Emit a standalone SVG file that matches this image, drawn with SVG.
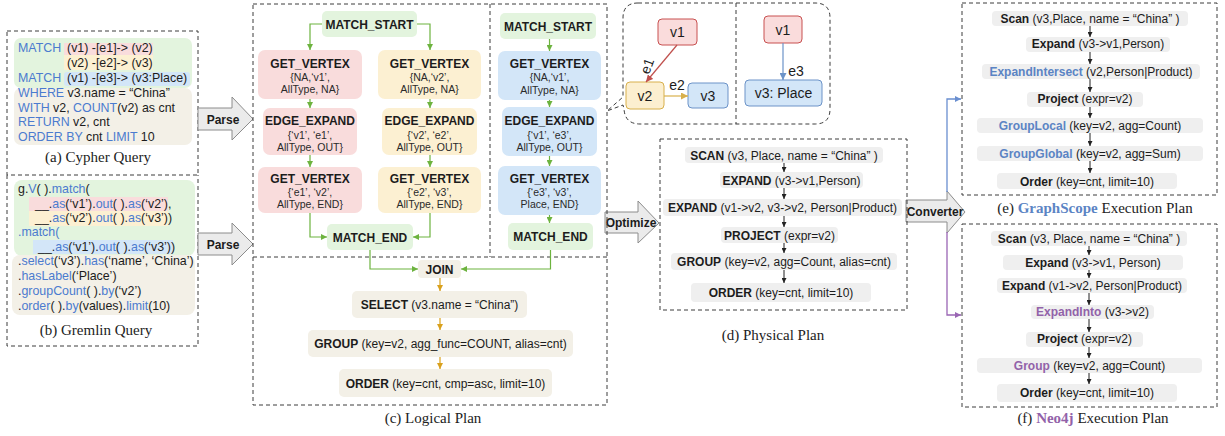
<svg xmlns="http://www.w3.org/2000/svg" width="1225" height="436" viewBox="0 0 1225 436">
<style>
  .dash{fill:none;stroke:#3c3c3c;stroke-width:1;stroke-dasharray:4 3}
  .t{font-family:"Liberation Sans",Arial,sans-serif;font-size:12px;fill:#1c1c1c}
  .code{font-family:"Liberation Sans",Arial,sans-serif;font-size:12.4px;fill:#1c1c1c}
  .sub{font-family:"Liberation Sans",Arial,sans-serif;font-size:10.5px;fill:#2a2a2a}
  .b{font-weight:bold}
  .kw{fill:#4b7bcf}
  .gs{fill:#5b84c4}
  .neo{fill:#9262a9}
  .cap{font-family:"Liberation Serif","Times New Roman",serif;font-size:15px;fill:#222}
  .row{fill:#efefef}
  .green{fill:#e3f4de}
  .pink{fill:#f9dcdc}
  .orange{fill:#fcf0d2}
  .blue{fill:#d3e6f8}
  .beige{fill:#f3f0e7}
  .blk{fill:#ebebeb;stroke:#8c8c8c;stroke-width:1}
  .gl{fill:none;stroke:#6db33f;stroke-width:1.2}
  .ol{fill:none;stroke:#d9a11e;stroke-width:1.2}
  .kl{fill:none;stroke:#222;stroke-width:1}
  .node{font-family:"Liberation Sans",Arial,sans-serif;font-size:14px;fill:#1c1c1c}
</style>
<defs>
  <marker id="ag" markerUnits="userSpaceOnUse" markerWidth="6" markerHeight="6" refX="6" refY="3" orient="auto"><path d="M0,0 L6,3 L0,6 z" fill="#6db33f"/></marker>
  <marker id="ao" markerUnits="userSpaceOnUse" markerWidth="6" markerHeight="6" refX="6" refY="3" orient="auto"><path d="M0,0 L6,3 L0,6 z" fill="#d9a11e"/></marker>
  <marker id="ak" markerUnits="userSpaceOnUse" markerWidth="5" markerHeight="5" refX="5" refY="2.5" orient="auto"><path d="M0,0 L5,2.5 L0,5 z" fill="#222"/></marker>
  <marker id="ar" markerUnits="userSpaceOnUse" markerWidth="7" markerHeight="7" refX="7" refY="3.5" orient="auto"><path d="M0,0 L7,3.5 L0,7 z" fill="#c0504d"/></marker>
  <marker id="ay" markerUnits="userSpaceOnUse" markerWidth="7" markerHeight="7" refX="7" refY="3.5" orient="auto"><path d="M0,0 L7,3.5 L0,7 z" fill="#d8b04c"/></marker>
  <marker id="ab" markerUnits="userSpaceOnUse" markerWidth="7" markerHeight="7" refX="7" refY="3.5" orient="auto"><path d="M0,0 L7,3.5 L0,7 z" fill="#6c93c8"/></marker>
  <marker id="abl" markerUnits="userSpaceOnUse" markerWidth="6" markerHeight="6" refX="6" refY="3" orient="auto"><path d="M0,0 L6,3 L0,6 z" fill="#6a8fd0"/></marker>
  <marker id="apu" markerUnits="userSpaceOnUse" markerWidth="6" markerHeight="6" refX="6" refY="3" orient="auto"><path d="M0,0 L6,3 L0,6 z" fill="#9a66b4"/></marker>
</defs>
<rect width="1225" height="436" fill="#fff"/>

<!-- (a) Cypher query -->
<g id="cypher">
  <rect class="dash" x="7" y="31" width="191" height="144"/>
  <rect class="green" x="14" y="38" width="178" height="50" rx="7"/>
  <rect class="beige" x="14" y="88" width="178" height="57" rx="7"/>
  <rect class="pink" x="64" y="43" width="89" height="12"/>
  <rect class="orange" x="64" y="55" width="89" height="15"/>
  <rect class="blue" x="64" y="72" width="126" height="14" rx="3"/>
  <text class="code" x="18" y="52"><tspan class="kw">MATCH</tspan><tspan x="67">(v1) -[e1]-&gt; (v2)</tspan></text>
  <text class="code" x="67" y="67">(v2) -[e2]-&gt; (v3)</text>
  <text class="code" x="18" y="82"><tspan class="kw">MATCH</tspan><tspan x="67">(v1) -[e3]-&gt; (v3:Place)</tspan></text>
  <text class="code" x="18" y="97"><tspan class="kw">WHERE</tspan> v3.name = “China”</text>
  <text class="code" x="18" y="112"><tspan class="kw">WITH</tspan> v2, <tspan class="kw">COUNT</tspan>(v2) as cnt</text>
  <text class="code" x="18" y="126"><tspan class="kw">RETURN</tspan> v2, cnt</text>
  <text class="code" x="18" y="141"><tspan class="kw">ORDER BY</tspan> cnt <tspan class="kw">LIMIT</tspan> 10</text>
  <text class="cap" x="98" y="162" text-anchor="middle">(a) Cypher Query</text>
</g>

<!-- (b) Gremlin query -->
<g id="gremlin">
  <path class="dash" d="M7,175 V346 H198 V175"/>
  <rect class="green" x="14" y="180" width="181" height="76" rx="8"/>
  <rect class="beige" x="12" y="255" width="183" height="60" rx="8"/>
  <rect class="pink" x="29" y="197" width="139" height="14"/>
  <rect class="orange" x="29" y="211" width="139" height="15"/>
  <rect class="blue" x="33" y="240" width="140" height="14"/>
  <text class="code" x="18" y="193">g.<tspan class="kw">V</tspan>( ).<tspan class="kw">match</tspan>(</text>
  <text class="code" x="35" y="208">__.<tspan class="kw">as</tspan>(‘v1’).<tspan class="kw">out</tspan>( ).<tspan class="kw">as</tspan>(‘v2’),</text>
  <text class="code" x="35" y="222">__.<tspan class="kw">as</tspan>(‘v2’).<tspan class="kw">out</tspan>( ).<tspan class="kw">as</tspan>(‘v3’))</text>
  <text class="code kw" x="18" y="236">.match(</text>
  <text class="code" x="38" y="251">__.<tspan class="kw">as</tspan>(‘v1’).<tspan class="kw">out</tspan>( ).<tspan class="kw">as</tspan>(‘v3’))</text>
  <text class="code" x="18" y="265">.<tspan class="kw">select</tspan>(‘v3’).<tspan class="kw">has</tspan>(‘name’, ‘China’)</text>
  <text class="code" x="18" y="280">.<tspan class="kw">hasLabel</tspan>(‘Place’)</text>
  <text class="code" x="18" y="295">.<tspan class="kw">groupCount</tspan>( ).<tspan class="kw">by</tspan>(‘v2’)</text>
  <text class="code" x="18" y="310">.<tspan class="kw">order</tspan>( ).<tspan class="kw">by</tspan>(values).<tspan class="kw">limit</tspan>(10)</text>
  <text class="cap" x="96" y="335" text-anchor="middle">(b) Gremlin Query</text>
</g>

<!-- block arrows -->
<g id="parse1">
  <polygon class="blk" points="198,108 232,108 232,97 253,119 232,140 232,130 198,130"/>
  <text class="t b" x="223" y="123.5" text-anchor="middle">Parse</text>
</g>
<g id="parse2">
  <polygon class="blk" points="198,233 232,233 232,223 253,244 232,265 232,255 198,255"/>
  <text class="t b" x="223" y="248.5" text-anchor="middle">Parse</text>
</g>
<g id="optimize">
  <polygon class="blk" points="605,212 638,212 638,201 659,223 638,243 638,233 605,233"/>
  <text class="t b" x="631" y="227" text-anchor="middle">Optimize</text>
</g>
<g id="converter">
  <polygon class="blk" points="906,200 947,200 947,191 965,212 947,233 947,222 906,222"/>
  <text class="t b" x="935" y="216" text-anchor="middle">Converter</text>
</g>

<!-- (c) Logical plan frames -->
<g id="logical-frame">
  <rect class="dash" x="253" y="4" width="354" height="401"/>
  <line class="dash" x1="490" y1="4" x2="490" y2="257"/>
  <line class="dash" x1="253" y1="257" x2="607" y2="257"/>
  <text class="cap" x="433" y="423" text-anchor="middle">(c) Logical Plan</text>
</g>

<!-- logical plan, left branch -->
<g id="lp-match-start">
  <rect class="green" x="322" y="11" width="95" height="26" rx="5"/>
  <text class="t b" x="369.5" y="28.5" text-anchor="middle">MATCH_START</text>
</g>
<g id="lp-gv1">
  <rect class="pink" x="258" y="50" width="104" height="49" rx="7"/>
  <text class="t b" x="310" y="67.5" text-anchor="middle">GET_VERTEX</text>
  <text class="sub" x="310" y="81" text-anchor="middle">{NA,‘v1’,</text>
  <text class="sub" x="310" y="93" text-anchor="middle">AllType, NA}</text>
</g>
<g id="lp-ee1">
  <rect class="pink" x="263" y="108" width="94" height="47" rx="7"/>
  <text class="t b" x="310" y="125" text-anchor="middle">EDGE_EXPAND</text>
  <text class="sub" x="310" y="139" text-anchor="middle">{‘v1’, ‘e1’,</text>
  <text class="sub" x="310" y="151" text-anchor="middle">AllType, OUT}</text>
</g>
<g id="lp-gv2">
  <rect class="pink" x="258" y="167" width="104" height="46" rx="7"/>
  <text class="t b" x="310" y="182.5" text-anchor="middle">GET_VERTEX</text>
  <text class="sub" x="310" y="196" text-anchor="middle">{‘e1’, ‘v2’,</text>
  <text class="sub" x="310" y="207.5" text-anchor="middle">AllType, END}</text>
</g>
<g id="lp-gv3">
  <rect class="orange" x="378" y="50" width="103" height="49" rx="7"/>
  <text class="t b" x="429.5" y="67.5" text-anchor="middle">GET_VERTEX</text>
  <text class="sub" x="429.5" y="81" text-anchor="middle">{NA,‘v2’,</text>
  <text class="sub" x="429.5" y="93" text-anchor="middle">AllType, NA}</text>
</g>
<g id="lp-ee2">
  <rect class="orange" x="382" y="108" width="95" height="47" rx="7"/>
  <text class="t b" x="429.5" y="125" text-anchor="middle">EDGE_EXPAND</text>
  <text class="sub" x="429.5" y="139" text-anchor="middle">{‘v2’, ‘e2’,</text>
  <text class="sub" x="429.5" y="151" text-anchor="middle">AllType, OUT}</text>
</g>
<g id="lp-gv4">
  <rect class="orange" x="378" y="167" width="103" height="46" rx="7"/>
  <text class="t b" x="429.5" y="182.5" text-anchor="middle">GET_VERTEX</text>
  <text class="sub" x="429.5" y="196" text-anchor="middle">{‘e2’, ‘v3’,</text>
  <text class="sub" x="429.5" y="207.5" text-anchor="middle">AllType, END}</text>
</g>
<g id="lp-match-end">
  <rect class="green" x="327" y="224" width="86" height="26" rx="5"/>
  <text class="t b" x="370" y="241.5" text-anchor="middle">MATCH_END</text>
</g>

<!-- logical plan, right branch -->
<g id="lp2-match-start">
  <rect class="green" x="500" y="13" width="96" height="26" rx="5"/>
  <text class="t b" x="548" y="30.5" text-anchor="middle">MATCH_START</text>
</g>
<g id="lp2-gv1">
  <rect class="blue" x="498" y="51" width="103" height="49" rx="7"/>
  <text class="t b" x="549.5" y="67.5" text-anchor="middle">GET_VERTEX</text>
  <text class="sub" x="549.5" y="81" text-anchor="middle">{NA,‘v1’,</text>
  <text class="sub" x="549.5" y="94" text-anchor="middle">AllType, NA}</text>
</g>
<g id="lp2-ee">
  <rect class="blue" x="502" y="107" width="95" height="49" rx="7"/>
  <text class="t b" x="549.5" y="125" text-anchor="middle">EDGE_EXPAND</text>
  <text class="sub" x="549.5" y="139" text-anchor="middle">{‘v1’, ‘e3’,</text>
  <text class="sub" x="549.5" y="151" text-anchor="middle">AllType, OUT}</text>
</g>
<g id="lp2-gv2">
  <rect class="blue" x="498" y="166" width="103" height="49" rx="7"/>
  <text class="t b" x="549.5" y="182.5" text-anchor="middle">GET_VERTEX</text>
  <text class="sub" x="549.5" y="195.5" text-anchor="middle">{‘e3’, ‘v3’,</text>
  <text class="sub" x="549.5" y="207.5" text-anchor="middle">Place, END}</text>
</g>
<g id="lp2-match-end">
  <rect class="green" x="508" y="223" width="85" height="27" rx="5"/>
  <text class="t b" x="550.5" y="241" text-anchor="middle">MATCH_END</text>
</g>

<!-- logical plan, shared tail -->
<g id="lp-join">
  <rect class="beige" x="418" y="260" width="43" height="18" rx="4"/>
  <text class="t b" x="439.5" y="273.5" text-anchor="middle">JOIN</text>
</g>
<g id="lp-select">
  <rect class="beige" x="352" y="291" width="175" height="27" rx="5"/>
  <text class="t" x="439.5" y="308.5" text-anchor="middle"><tspan class="b">SELECT</tspan> (v3.name = “China”)</text>
</g>
<g id="lp-group">
  <rect class="beige" x="308" y="330" width="265" height="27" rx="5"/>
  <text class="t" x="440.5" y="348" text-anchor="middle"><tspan class="b">GROUP</tspan> (key=v2, agg_func=COUNT, alias=cnt)</text>
</g>
<g id="lp-order">
  <rect class="beige" x="339" y="369" width="213" height="28" rx="5"/>
  <text class="t" x="445.5" y="388" text-anchor="middle"><tspan class="b">ORDER</tspan> (key=cnt, cmp=asc, limit=10)</text>
</g>

<!-- pattern callout -->
<g id="pattern-frame">
  <path class="dash" d="M638,3 H815 Q830,3 830,18 V109 Q830,124 815,124 H640 Q625,124 624,109 L623,105 L607,111 L623,97 V18 Q623,3 638,3 Z"/>
  <line class="dash" x1="736" y1="3" x2="736" y2="124"/>
</g>
<g id="pv1">
  <rect x="658" y="19" width="39" height="26" rx="4" fill="#fadcdc" stroke="#c85050"/>
  <text class="node" x="677.5" y="37" text-anchor="middle">v1</text>
</g>
<g id="pv2">
  <rect x="626" y="82" width="38" height="27" rx="4" fill="#fcefd0" stroke="#d8b04c"/>
  <text class="node" x="645" y="100.5" text-anchor="middle">v2</text>
</g>
<g id="pv3">
  <rect x="688" y="83" width="40" height="25" rx="4" fill="#d3e6f8" stroke="#6c93c8"/>
  <text class="node" x="708" y="100.5" text-anchor="middle">v3</text>
</g>
<g id="pv1b">
  <rect x="764" y="16" width="38" height="27" rx="4" fill="#fadcdc" stroke="#c85050"/>
  <text class="node" x="783" y="34.5" text-anchor="middle">v1</text>
</g>
<g id="pv3b">
  <rect x="745" y="80" width="77" height="26" rx="4" fill="#d3e6f8" stroke="#6c93c8"/>
  <text class="node" x="783.5" y="98" text-anchor="middle">v3: Place</text>
</g>

<!-- (d) Physical plan -->
<g id="physical">
  <rect class="dash" x="660" y="139" width="247" height="171"/>
  <rect class="row" x="685" y="147" width="198" height="16" rx="4"/>
  <text class="t" x="784" y="159.5" text-anchor="middle"><tspan class="b">SCAN</tspan> (v3, Place, name = “China” )</text>
  <rect class="row" x="720" y="172" width="143" height="16" rx="4"/>
  <text class="t" x="791.5" y="184.5" text-anchor="middle"><tspan class="b">EXPAND</tspan> (v3-&gt;v1,Person)</text>
  <rect class="row" x="663" y="199" width="239" height="17" rx="4"/>
  <text class="t" x="782.5" y="212" text-anchor="middle"><tspan class="b">EXPAND</tspan> (v1-&gt;v2, v3-&gt;v2, Person|Product)</text>
  <rect class="row" x="721" y="227" width="117" height="16" rx="4"/>
  <text class="t" x="779.5" y="239.5" text-anchor="middle"><tspan class="b">PROJECT</tspan> (expr=v2)</text>
  <rect class="row" x="671" y="253" width="226" height="17" rx="4"/>
  <text class="t" x="784" y="266" text-anchor="middle"><tspan class="b">GROUP</tspan> (key=v2, agg=Count, alias=cnt)</text>
  <rect class="row" x="691" y="283" width="180" height="19" rx="4"/>
  <text class="t" x="781" y="296.5" text-anchor="middle"><tspan class="b">ORDER</tspan> (key=cnt, limit=10)</text>
  <text class="cap" x="773" y="340" text-anchor="middle">(d) Physical Plan</text>
</g>

<!-- (e) GraphScope execution plan -->
<g id="graphscope">
  <rect class="dash" x="962" y="3" width="255" height="192"/>
  <rect class="row" x="992" y="11" width="196" height="15" rx="4"/>
  <text class="t" x="1090" y="22.5" text-anchor="middle"><tspan class="b">Scan</tspan> (v3,Place, name = “China” )</text>
  <rect class="row" x="1026" y="37" width="144" height="15" rx="4"/>
  <text class="t" x="1098" y="48" text-anchor="middle"><tspan class="b">Expand</tspan> (v3-&gt;v1,Person)</text>
  <rect class="row" x="982" y="64" width="218" height="15" rx="4"/>
  <text class="t" x="1091" y="75.5" text-anchor="middle"><tspan class="b gs">ExpandIntersect</tspan> (v2,Person|Product)</text>
  <rect class="row" x="1027" y="92" width="116" height="15" rx="4"/>
  <text class="t" x="1085" y="103" text-anchor="middle"><tspan class="b">Project</tspan> (expr=v2)</text>
  <rect class="row" x="977" y="118" width="226" height="15" rx="4"/>
  <text class="t" x="1090" y="129.5" text-anchor="middle"><tspan class="b gs">GroupLocal</tspan> (key=v2, agg=Count)</text>
  <rect class="row" x="977" y="146" width="226" height="15" rx="4"/>
  <text class="t" x="1090" y="157.5" text-anchor="middle"><tspan class="b gs">GroupGlobal</tspan> (key=v2, agg=Sum)</text>
  <rect class="row" x="997" y="173" width="180" height="16" rx="4"/>
  <text class="t" x="1087" y="185.5" text-anchor="middle"><tspan class="b">Order</tspan> (key=cnt, limit=10)</text>
  <text class="cap" x="1095" y="213" text-anchor="middle">(e) <tspan font-weight="bold" fill="#5b84c4">GraphScope</tspan> Execution Plan</text>
</g>

<!-- (f) Neo4j execution plan -->
<g id="neo4j">
  <rect class="dash" x="962" y="224" width="255" height="183"/>
  <rect class="row" x="991" y="231" width="196" height="15" rx="4"/>
  <text class="t" x="1089" y="242.5" text-anchor="middle"><tspan class="b">Scan</tspan> (v3, Place, name = “China” )</text>
  <rect class="row" x="1003" y="255" width="180" height="15" rx="4"/>
  <text class="t" x="1093" y="266.5" text-anchor="middle"><tspan class="b">Expand</tspan> (v3-&gt;v1, Person)</text>
  <rect class="row" x="997" y="278" width="190" height="15" rx="4"/>
  <text class="t" x="1092" y="290" text-anchor="middle"><tspan class="b">Expand</tspan> (v1-&gt;v2, Person|Product)</text>
  <rect class="row" x="1031" y="305" width="123" height="14" rx="4"/>
  <text class="t" x="1092.5" y="316" text-anchor="middle"><tspan class="b neo">ExpandInto</tspan> (v3-&gt;v2)</text>
  <rect class="row" x="1026" y="332" width="117" height="15" rx="4"/>
  <text class="t" x="1084.5" y="343" text-anchor="middle"><tspan class="b">Project</tspan> (expr=v2)</text>
  <rect class="row" x="977" y="358" width="225" height="15" rx="4"/>
  <text class="t" x="1089.5" y="369.5" text-anchor="middle"><tspan class="b neo">Group</tspan> (key=v2, agg=Count)</text>
  <rect class="row" x="997" y="384" width="180" height="18" rx="4"/>
  <text class="t" x="1087" y="397" text-anchor="middle"><tspan class="b">Order</tspan> (key=cnt, limit=10)</text>
  <text class="cap" x="1093" y="423" text-anchor="middle">(f) <tspan font-weight="bold" fill="#9262a9">Neo4j</tspan> Execution Plan</text>
</g>

<!-- connectors -->
<g id="connectors">
  <path class="gl" d="M322,24 H310 V50" marker-end="url(#ag)"/>
  <path class="gl" d="M417,24 H430 V50" marker-end="url(#ag)"/>
  <path class="gl" d="M310,99 V108" marker-end="url(#ag)"/>
  <path class="gl" d="M310,155 V167" marker-end="url(#ag)"/>
  <path class="gl" d="M430,99 V108" marker-end="url(#ag)"/>
  <path class="gl" d="M430,155 V167" marker-end="url(#ag)"/>
  <path class="gl" d="M310,213 V237 H327" marker-end="url(#ag)"/>
  <path class="gl" d="M430,213 V237 H413" marker-end="url(#ag)"/>
  <path class="gl" d="M549.5,39 V51" marker-end="url(#ag)"/>
  <path class="gl" d="M549.5,100 V107" marker-end="url(#ag)"/>
  <path class="gl" d="M549.5,156 V166" marker-end="url(#ag)"/>
  <path class="gl" d="M549.5,215 V223" marker-end="url(#ag)"/>
  <path class="gl" d="M370,250 V269 H418" marker-end="url(#ag)"/>
  <path class="gl" d="M550.5,250 V269 H461" marker-end="url(#ag)"/>
  <path class="ol" d="M440,278 V291" marker-end="url(#ao)"/>
  <path class="ol" d="M440,318 V330" marker-end="url(#ao)"/>
  <path class="ol" d="M440,357 V369" marker-end="url(#ao)"/>

  <path d="M677,45 L646,82" stroke="#c0504d" stroke-width="1.2" fill="none" marker-end="url(#ar)"/>
  <text class="node" x="647" y="71" text-anchor="middle" transform="rotate(-70 647 66)">e1</text>
  <path d="M664,96 H688" stroke="#d8b04c" stroke-width="1.2" fill="none" marker-end="url(#ay)"/>
  <text class="node" x="677" y="90" text-anchor="middle">e2</text>
  <path d="M783,43 V80" stroke="#6c93c8" stroke-width="1.2" fill="none" marker-end="url(#ab)"/>
  <text class="node" x="796" y="76" text-anchor="middle">e3</text>

  <path class="kl" d="M784,163 V172" marker-end="url(#ak)"/>
  <path class="kl" d="M784,188 V199" marker-end="url(#ak)"/>
  <path class="kl" d="M784,216 V227" marker-end="url(#ak)"/>
  <path class="kl" d="M784,243 V253" marker-end="url(#ak)"/>
  <path class="kl" d="M784,270 V283" marker-end="url(#ak)"/>

  <path class="kl" d="M1090,26 V37" marker-end="url(#ak)"/>
  <path class="kl" d="M1090,52 V64" marker-end="url(#ak)"/>
  <path class="kl" d="M1090,79 V92" marker-end="url(#ak)"/>
  <path class="kl" d="M1090,107 V118" marker-end="url(#ak)"/>
  <path class="kl" d="M1090,133 V146" marker-end="url(#ak)"/>
  <path class="kl" d="M1090,161 V173" marker-end="url(#ak)"/>

  <path class="kl" d="M1089,246 V255" marker-end="url(#ak)"/>
  <path class="kl" d="M1089,270 V278" marker-end="url(#ak)"/>
  <path class="kl" d="M1089,293 V305" marker-end="url(#ak)"/>
  <path class="kl" d="M1089,319 V332" marker-end="url(#ak)"/>
  <path class="kl" d="M1089,347 V358" marker-end="url(#ak)"/>
  <path class="kl" d="M1089,373 V384" marker-end="url(#ak)"/>

  <path d="M947,192 V99 H961" stroke="#6a8fd0" stroke-width="1.3" fill="none" marker-end="url(#abl)"/>
  <path d="M947,232 V315 H961" stroke="#9a66b4" stroke-width="1.3" fill="none" marker-end="url(#apu)"/>
</g>
</svg>
